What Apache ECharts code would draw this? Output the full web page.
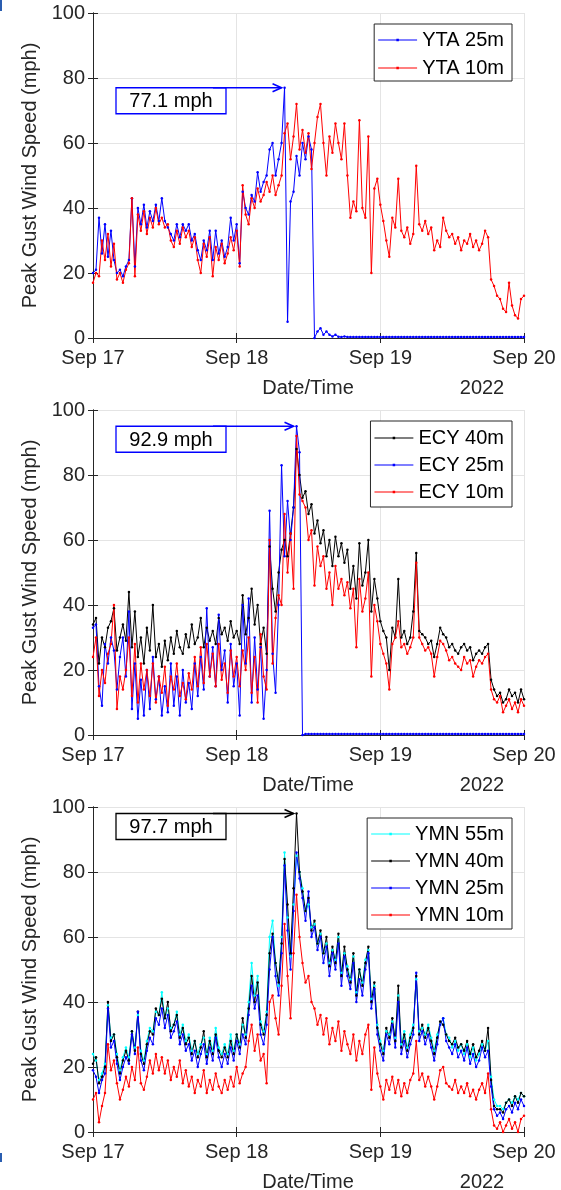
<!DOCTYPE html>
<html><head><meta charset="utf-8">
<script src="https://cdn.jsdelivr.net/npm/echarts@6/dist/echarts.min.js"></script>
<style>html,body{margin:0;padding:0;background:#fff}#c{width:561px;height:1190px}</style>
</head><body><div id="c"></div>
<script>
// ---- data (30-minute samples, hours since Sep 17 00:00) ----
const STEP_HOURS = 0.5;
const X_TICK_LABELS = ['Sep 17', 'Sep 18', 'Sep 19', 'Sep 20'];
const X_TICK_HOURS = [0, 24, 48, 72];
const ANNOT_LABELS = ['77.1 mph', '92.9 mph', '97.7 mph'];

const YTA25 = [20,21,37,26,35,25,33,24,20,21, 19,22,24,43,22,40,35,41,34,39,
  36,41,36,43,36,34,32,30,35,31, 35,33,35,30,32,27,24,30,27,33,
  24,33,26,30,25,28,37,30,35,23, 45,40,38,44,42,51,45,48,50,58,
  60,50,55,60,77,5,42,45,56,50, 60,55,62,58,0,2,3,1,2,1,
  0.5,1,0.4,0.3,0.5,0.3,0.3,0.3,0.3,0.3, 0.3,0.3,0.3,0.3,0.3,0.3,0.3,0.3,0.3,0.3,
  0.3,0.3,0.3,0.3,0.3,0.3,0.3,0.3,0.3,0.3, 0.3,0.3,0.3,0.3,0.3,0.3,0.3,0.3,0.3,0.3,
  0.3,0.3,0.3,0.3,0.3,0.3,0.3,0.3,0.3,0.3, 0.3,0.3,0.3,0.3,0.3,0.3,0.3,0.3,0.3,0.3,
  0.3,0.3,0.3,0.3,0.3];
const YTA10 = [17,20,19,30,24,32,22,29,18,20, 17,21,23,43,19,38,33,39,32,37,
  34,40,35,37,34,35,30,28,33,29, 34,31,33,28,31,24,20,29,25,31,
  19,28,24,29,23,26,31,27,33,22, 47,38,35,43,40,46,42,44,48,45,
  50,44,47,50,63,66,55,62,72,58, 64,57,63,52,60,68,72,60,50,62,
  57,66,60,55,66,50,37,42,39,67, 40,37,62,20,46,49,41,36,30,25,
  37,34,49,33,31,34,29,32,53,35, 33,36,32,34,27,30,28,37,33,31,
  32,29,31,27,30,29,32,28,30,27, 29,33,31,18,16,13,12,9,8,17,
  10,7,6,12,13];

const ECY40 = [34,36,22,30,27,33,35,39,26,30, 34,29,44,27,38,24,30,22,33,26,
  40,24,28,21,29,23,30,25,32,27, 25,31,27,34,28,30,36,27,33,29,
  32,28,36,31,33,29,35,30,32,28, 43,31,36,45,34,40,28,33,25,58,
  45,38,50,57,60,55,62,70,88,80, 73,75,68,71,62,66,59,63,55,60,
  52,61,55,59,53,57,45,52,42,59, 46,50,60,38,48,42,35,32,30,20,
  33,30,48,30,32,28,30,38,56,32, 31,30,28,29,24,28,33,31,30,27,
  28,26,25,27,28,26,27,23,25,26, 25,27,28,17,14,12,13,10,11,14,
  12,13,10,14,11];
const ECY25 = [33,34,15,9,28,22,30,26,14,24, 30,18,38,8,22,5,17,6,20,8,
  24,11,18,6,15,7,22,9,18,6, 20,10,16,8,22,12,24,14,39,18,
  27,15,37,20,26,10,28,15,22,6, 40,22,42,10,30,14,27,5,20,69,
  25,13,40,83,55,72,60,70,95,87, 0,0.3,0.3,0.3,0.3,0.3,0.3,0.3,0.3,0.3,
  0.3,0.3,0.3,0.3,0.3,0.3,0.3,0.3,0.3,0.3, 0.3,0.3,0.3,0.3,0.3,0.3,0.3,0.3,0.3,0.3,
  0.3,0.3,0.3,0.3,0.3,0.3,0.3,0.3,0.3,0.3, 0.3,0.3,0.3,0.3,0.3,0.3,0.3,0.3,0.3,0.3,
  0.3,0.3,0.3,0.3,0.3,0.3,0.3,0.3,0.3,0.3, 0.3,0.3,0.3,0.3,0.3,0.3,0.3,0.3,0.3,0.3,
  0.3,0.3,0.3,0.3,0.3];
const ECY10 = [24,30,12,20,16,25,28,40,8,18, 14,20,30,12,28,10,22,14,20,12,
  22,10,18,13,21,9,18,14,22,12, 16,11,19,14,24,15,27,16,28,18,
  25,15,28,17,22,13,26,18,24,15, 26,20,30,13,24,10,31,18,14,60,
  22,36,43,40,68,50,62,45,92,74, 72,70,60,63,46,58,52,55,45,50,
  40,52,45,48,43,47,39,45,27,48, 38,42,50,18,40,35,28,25,22,14,
  28,30,35,27,28,25,27,30,53,30, 28,26,27,25,18,24,29,28,26,23,
  24,22,21,20,24,22,23,18,21,23, 22,24,25,14,11,10,12,7,9,11,
  8,10,7,11,9];

const YMN55 = [24,22,16,18,21,39,29,30,24,19, 23,26,23,31,26,36,25,22,28,32,
  31,37,36,43,35,38,32,33,37,30, 33,28,30,25,28,24,27,29,24,29,
  25,32,26,24,27,24,30,25,30,27, 33,30,40,52,42,48,34,31,37,60,
  65,52,45,60,86,66,54,70,85,80, 75,68,70,63,64,58,61,55,58,52,
  56,53,60,49,55,51,47,54,43,50, 46,53,56,41,45,33,28,25,31,30,
  34,29,42,27,31,26,30,33,47,31, 32,30,33,29,25,30,33,35,30,29,
  26,28,25,27,24,27,23,26,22,24, 27,25,28,17,10,8,8,7,9,10,
  9,11,10,12,11];
const YMN40 = [21,23,15,17,20,40,28,30,23,18, 22,25,22,31,25,37,24,21,27,31,
  30,38,36,41,35,40,31,33,36,29, 32,27,29,24,28,23,26,31,23,28,
  24,30,25,23,26,23,28,24,30,26, 35,29,38,48,40,46,33,30,36,55,
  61,52,46,58,84,70,55,75,98,80, 74,68,72,62,65,58,62,55,60,51,
  57,52,61,48,57,50,46,55,42,50, 45,52,57,40,46,32,27,24,32,29,
  35,28,45,26,30,25,29,32,48,30, 33,29,32,28,24,29,34,33,30,28,
  27,29,26,27,25,28,24,27,23,25, 28,25,32,16,8,7,7,6,9,10,
  8,11,9,12,11];
const YMN25 = [19,17,12,16,18,38,26,28,21,16, 20,23,21,30,24,37,22,19,25,29,
  27,35,33,38,32,36,29,31,34,27, 30,25,27,22,25,20,24,27,21,26,
  22,29,23,20,24,21,26,22,28,24, 30,27,36,45,38,42,30,27,33,50,
  60,48,42,55,82,62,50,68,86,78, 72,65,74,60,63,56,60,52,57,48,
  55,50,58,45,54,48,44,52,40,47, 42,50,55,38,44,30,25,22,30,27,
  33,26,40,24,28,23,27,30,49,28, 31,27,30,26,22,27,33,35,28,26,
  24,27,23,25,22,26,21,24,20,22, 26,23,25,14,7,5,6,4,7,8,
  6,9,7,10,8];
const YMN10 = [10,12,3,8,12,27,19,22,15,10, 13,17,14,20,16,26,15,13,17,22,
  18,24,19,23,18,22,16,20,17,22, 15,19,14,17,12,16,14,19,12,16,
  13,18,14,12,16,13,17,14,20,15, 18,20,28,33,25,30,22,24,15,40,
  42,35,30,45,64,48,35,55,73,60, 52,46,48,40,38,33,36,30,35,27,
  32,28,34,25,31,27,24,30,22,28, 24,30,33,13,26,18,14,10,16,13,
  17,12,16,11,15,12,16,18,28,16, 18,14,17,14,10,14,19,20,15,14,
  13,16,12,14,12,15,11,13,10,13, 15,12,18,7,2,1,3,0,2,4,
  1,3,0,4,5];

// ---- layout ----
const FONT = 'Arial, "Liberation Sans", sans-serif';
const TXT = '#262626';
const GRID_TOPS = [13, 410, 807];
const GRID_H = 325, GRID_L = 93, GRID_R = 37;
const C = {b:'#0000ff', r:'#ff0000', k:'#000000', c:'#00ffff'};
const LEGEND_ICON = 'path://M0,1.5h39v1h-39z M18.25,0.75h2.5v2.5h-2.5z M0,0h0.01v0.01h-0.01z M0,4h0.01v0.01h-0.01z';

const panels = [
  {series:[['YTA 25m', YTA25, C.b], ['YTA 10m', YTA10, C.r]], peak: YTA25, annot: C.b,
   legend:{top:24, padding:[6,8,3,4], itemGap:8}},
  {series:[['ECY 40m', ECY40, C.k], ['ECY 25m', ECY25, C.b], ['ECY 10m', ECY10, C.r]], peak: ECY25, annot: C.b,
   legend:{top:421, padding:[7,8,5,4], itemGap:7}},
  {series:[['YMN 55m', YMN55, C.c], ['YMN 40m', YMN40, C.k], ['YMN 25m', YMN25, C.b], ['YMN 10m', YMN10, C.r]], peak: YMN40, annot: C.k,
   legend:{top:818, padding:[6,8,4,4], itemGap:7}}
];

const grid = [], xAxis = [], yAxis = [], series = [], legend = [];
panels.forEach((p, g) => {
  grid.push({left: GRID_L, right: GRID_R, top: GRID_TOPS[g], height: GRID_H});
  const axLine = {show: true, lineStyle: {color: TXT, width: 1}};
  const tick = {show: true, inside: true, length: 5, lineStyle: {color: TXT}};
  xAxis.push({type:'value', gridIndex:g, min:0, max:72, interval:24, position:'bottom',
    axisLine: axLine, axisTick: tick,
    axisLabel: {color: TXT, fontSize: 20, fontFamily: FONT, margin: 10,
      formatter: v => X_TICK_LABELS[X_TICK_HOURS.indexOf(v)] || ''},
    splitLine: {show: true, lineStyle: {color: '#e4e4e4', width: 1}}});
  xAxis.push({type:'value', gridIndex:g, min:0, max:72, interval:24, position:'top',
    axisLine: axLine, axisTick: tick, axisLabel: {show:false}, splitLine: {show:false}});
  yAxis.push({type:'value', gridIndex:g, min:0, max:100, interval:20, position:'left',
    axisLine: axLine, axisTick: tick,
    axisLabel: {color: TXT, fontSize: 20, fontFamily: FONT, margin: 8},
    name: 'Peak Gust Wind Speed (mph)', nameLocation: 'middle', nameGap: 47,
    nameTextStyle: {color: TXT, fontSize: 20, fontFamily: FONT},
    splitLine: {show: true, lineStyle: {color: '#e4e4e4', width: 1}}});
  yAxis.push({type:'value', gridIndex:g, min:0, max:100, interval:20, position:'right',
    axisLine: axLine, axisTick: tick, axisLabel: {show:false}, splitLine: {show:false}});
  p.series.forEach(([name, arr, col]) => {
    series.push({type:'line', name, xAxisIndex: 2*g, yAxisIndex: 2*g,
      data: arr.map((v, i) => [i * STEP_HOURS, v]),
      symbol: 'circle', symbolSize: 2.5, showSymbol: true, showAllSymbol: true,
      lineStyle: {width: 1, color: col}, itemStyle: {color: col},
      animation: false, silent: true});
  });
  legend.push(Object.assign({right: 49, orient: 'vertical', align: 'left',
    data: p.series.map(s => ({name: s[0], icon: LEGEND_ICON})), itemWidth: 39, itemHeight: 4,
    backgroundColor: '#fff', borderColor: '#262626', borderWidth: 1, borderRadius: 0,
    textStyle: {color: '#000', fontSize: 20, fontFamily: FONT, lineHeight: 20}}, p.legend));
});

const chart = echarts.init(document.getElementById('c'), null, {renderer: 'canvas'});
chart.setOption({animation: false, backgroundColor: '#fff', grid, xAxis, yAxis, series, legend});

// annotations and axis titles
const gfx = [];
panels.forEach((p, g) => {
  const pk = p.peak.indexOf(Math.max(...p.peak));
  const pt = chart.convertToPixel({xAxisIndex: 2*g, yAxisIndex: 2*g}, [pk * STEP_HOURS, p.peak[pk]]);
  const y = pt[1], tip = pt[0] - 3;
  gfx.push({type:'rect', shape:{x:116, y:y, width:110, height:26}, style:{fill:'#fff', stroke:p.annot, lineWidth:1.3}, z:100});
  gfx.push({type:'text', x:171, y:y+14, style:{text:ANNOT_LABELS[g], fill:'#000', font:'20px ' + FONT, align:'center', verticalAlign:'middle'}, z:101});
  gfx.push({type:'line', shape:{x1:213, y1:y, x2:tip, y2:y}, style:{stroke:p.annot, lineWidth:1.6}, z:102});
  gfx.push({type:'polyline', shape:{points:[[tip-9, y-4],[tip, y],[tip-9, y+4]]}, style:{stroke:p.annot, lineWidth:1.6, fill:null}, z:102});
  const bottom = GRID_TOPS[g] + GRID_H;
  gfx.push({type:'text', x:308, y:bottom+50, style:{text:'Date/Time', fill:TXT, font:'20px ' + FONT, align:'center', verticalAlign:'middle'}});
  gfx.push({type:'text', x:482, y:bottom+50, style:{text:'2022', fill:TXT, font:'20px ' + FONT, align:'center', verticalAlign:'middle'}});
});
gfx.push({type:'rect', shape:{x:0, y:0, width:2, height:11}, style:{fill:'#2a5db0'}});
gfx.push({type:'rect', shape:{x:0, y:1153, width:2, height:9}, style:{fill:'#2a5db0'}});
chart.setOption({graphic: gfx});
</script>
</body></html>
